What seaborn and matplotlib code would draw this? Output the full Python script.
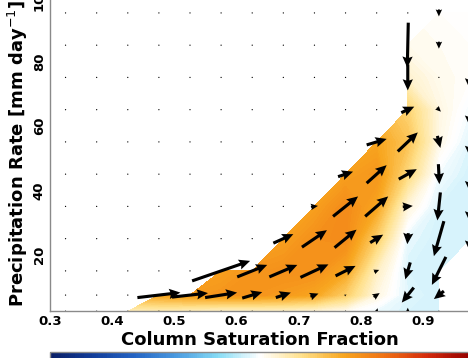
import numpy as np
import matplotlib
matplotlib.use("Agg")
import matplotlib.pyplot as plt
import seaborn as sns

nan = np.nan

# Bin centres of the composite
csf_centers = [0.325, 0.375, 0.425, 0.475, 0.525, 0.575, 0.625,
               0.675, 0.725, 0.775, 0.825, 0.875, 0.925, 0.975]
precip_centers = [2.5, 7.5, 15, 25, 35, 45, 55, 65, 75, 85, 95]

# Shaded tendency field (rows run from low to high precipitation)
field = [
    [nan, nan, 0.10, 0.12, 0.10, 0.08, 0.08, 0.08, 0.06, 0.02, -0.03, -0.06, -0.06, nan],
    [nan, nan, nan, 0.40, 0.44, 0.46, 0.46, 0.44, 0.40, 0.26, 0.05, -0.05, -0.07, nan],
    [nan, nan, nan, nan, nan, 0.42, 0.46, 0.48, 0.48, 0.40, 0.10, -0.06, -0.07, nan],
    [nan, nan, nan, nan, nan, nan, nan, 0.42, 0.48, 0.50, 0.26, -0.04, -0.07, -0.06],
    [nan, nan, nan, nan, nan, nan, nan, nan, 0.42, 0.50, 0.40, 0.06, -0.06, -0.07],
    [nan, nan, nan, nan, nan, nan, nan, nan, nan, 0.42, 0.46, 0.22, -0.02, -0.07],
    [nan, nan, nan, nan, nan, nan, nan, nan, nan, nan, 0.40, 0.30, 0.04, -0.05],
    [nan, nan, nan, nan, nan, nan, nan, nan, nan, nan, nan, 0.24, 0.05, -0.02],
    [nan, nan, nan, nan, nan, nan, nan, nan, nan, nan, nan, 0.08, 0.03, 0.01],
    [nan, nan, nan, nan, nan, nan, nan, nan, nan, nan, nan, 0.03, 0.02, 0.01],
    [nan, nan, nan, nan, nan, nan, nan, nan, nan, nan, nan, nan, 0.01, 0.01],
]

# Mean tendency vectors (d CSF / dt, d P / dt)
u_tend = [
    [0, 0, 0, 0, 0, 0, 0, 0, 0, 0, 0.2, 0.0, 0, 0],
    [0, 0, 0, 4.3, 3.6, 3.2, 2.0, 1.5, 0.8, 0.2, 0.6, -1.2, -1.0, 0],
    [0, 0, 0, 0, 0, 5.8, 3.0, 2.8, 2.8, 2.0, 0.5, -0.5, -1.4, 0],
    [0, 0, 0, 0, 0, 0, 0, 2.0, 2.5, 2.2, 1.3, -0.1, -1.0, 0],
    [0, 0, 0, 0, 0, 0, 0, 0, 0.7, 2.5, 2.3, 1.0, -0.3, 0],
    [0, 0, 0, 0, 0, 0, 0, 0, 0, 1.5, 2.0, 1.8, 0.1, 0],
    [0, 0, 0, 0, 0, 0, 0, 0, 0, 0, 2.0, 2.0, 0.3, 0],
    [0, 0, 0, 0, 0, 0, 0, 0, 0, 0, 0, 1.3, 0.4, 0],
    [0, 0, 0, 0, 0, 0, 0, 0, 0, 0, 0, 0.0, 0, 0],
    [0, 0, 0, 0, 0, 0, 0, 0, 0, 0, 0, -0.1, 0, 0],
    [0, 0, 0, 0, 0, 0, 0, 0, 0, 0, 0, 0, 0, 0],
]
v_tend = [
    [0, 0, 0, 0, 0, 0, 0, 0, 0, 0, 0.6, 0.7, 0, 0],
    [0, 0, 0, 0.5, 0.4, 0.5, 0.6, 0.5, 0.3, 0.1, 0.4, -1.5, -0.8, 0],
    [0, 0, 0, 0, 0, 2.0, 1.2, 1.2, 1.3, 1.0, 0.2, -1.7, -2.8, 0],
    [0, 0, 0, 0, 0, 0, 0, 0.9, 1.7, 1.8, 0.8, -1.1, -3.5, -2.6],
    [0, 0, 0, 0, 0, 0, 0, 0, 0.1, 2.0, 2.0, 0.1, -2.8, -3.2],
    [0, 0, 0, 0, 0, 0, 0, 0, 0, 0.5, 1.8, 1.0, -2.0, -3.6],
    [0, 0, 0, 0, 0, 0, 0, 0, 0, 0, 0.6, 1.9, -1.2, -3.0],
    [0, 0, 0, 0, 0, 0, 0, 0, 0, 0, 0, 0.6, -0.4, -3.4],
    [0, 0, 0, 0, 0, 0, 0, 0, 0, 0, 0, -2.6, 0, -2.4],
    [0, 0, 0, 0, 0, 0, 0, 0, 0, 0, 0, -4.5, -0.7, 0],
    [0, 0, 0, 0, 0, 0, 0, 0, 0, 0, 0, 0, -0.7, 0],
]

x_ticks = [0.3, 0.4, 0.5, 0.6, 0.7, 0.8, 0.9]
y_ticks = [20, 40, 60, 80, 100]

sns.set_theme(style="white")
plt.rcParams["font.family"] = ["DejaVu Sans"]
plt.rcParams.update({
    "text.color": "black",
    "axes.labelcolor": "black",
    "xtick.color": "black",
    "ytick.color": "black",
})

cmap = sns.blend_palette(
    ["#0a1f66", "#123d9a", "#2464c4", "#4a9ae0", "#86dcf5", "#ffffff",
     "#ffe08a", "#f8a61f", "#f07014", "#d42a0c", "#940000"],
    as_cmap=True,
)

fig = plt.figure(figsize=(4.68, 3.58), dpi=100)
ax = fig.add_axes([50 / 468, 0.1307, 420 / 468, 0.8782])

X, Y = np.meshgrid(csf_centers, precip_centers)
F = np.ma.masked_invalid(np.array(field, dtype=float))
levels = np.linspace(-1, 1, 201)
cf = ax.contourf(X, Y, F, levels=levels, cmap=cmap, vmin=-1, vmax=1,
                 antialiased=False)

ax.quiver(X, Y, np.array(u_tend), np.array(v_tend), color="black",
          pivot="middle", angles="uv", scale_units="dots", scale=0.1,
          width=0.0074, headwidth=3.3, headlength=3.6, headaxislength=3.2,
          minlength=0.45, zorder=3)

ax.set_xlim(0.3, 0.975)
ax.set_ylim(2.5, 100)
ax.set_xticks(x_ticks)
ax.set_xticklabels([f"{t:.1f}" for t in x_ticks])
ax.set_yticks(y_ticks)
ax.set_yticklabels([str(t) for t in y_ticks])

for side in ("top", "right"):
    ax.spines[side].set_visible(False)
for side in ("left", "bottom"):
    ax.spines[side].set_color("#8a8a8a")
    ax.spines[side].set_linewidth(1.0)

ax.tick_params(axis="both", direction="in", length=6, width=1.6,
               color="black", labelcolor="black", labelsize=9.5, pad=3)
ax.tick_params(axis="y", labelrotation=90)
for lab in ax.get_xticklabels() + ax.get_yticklabels():
    lab.set_fontweight("bold")
for lab in ax.get_yticklabels():
    lab.set_va("center")

ax.set_xlabel("Column Saturation Fraction", fontsize=13, fontweight="bold",
              labelpad=2, color="black")
ax.set_ylabel("Precipitation Rate [mm day$^{-1}$]", fontsize=13,
              fontweight="bold", labelpad=2, color="black")

cax = fig.add_axes([50 / 468, -0.0405, 420 / 468, 0.0559])
cb = fig.colorbar(cf, cax=cax, orientation="horizontal")
cb.outline.set_edgecolor("#8a8a8a")
cb.outline.set_linewidth(1.0)
cax.set_xticks([])

fig.savefig("out.png", dpi=100)
